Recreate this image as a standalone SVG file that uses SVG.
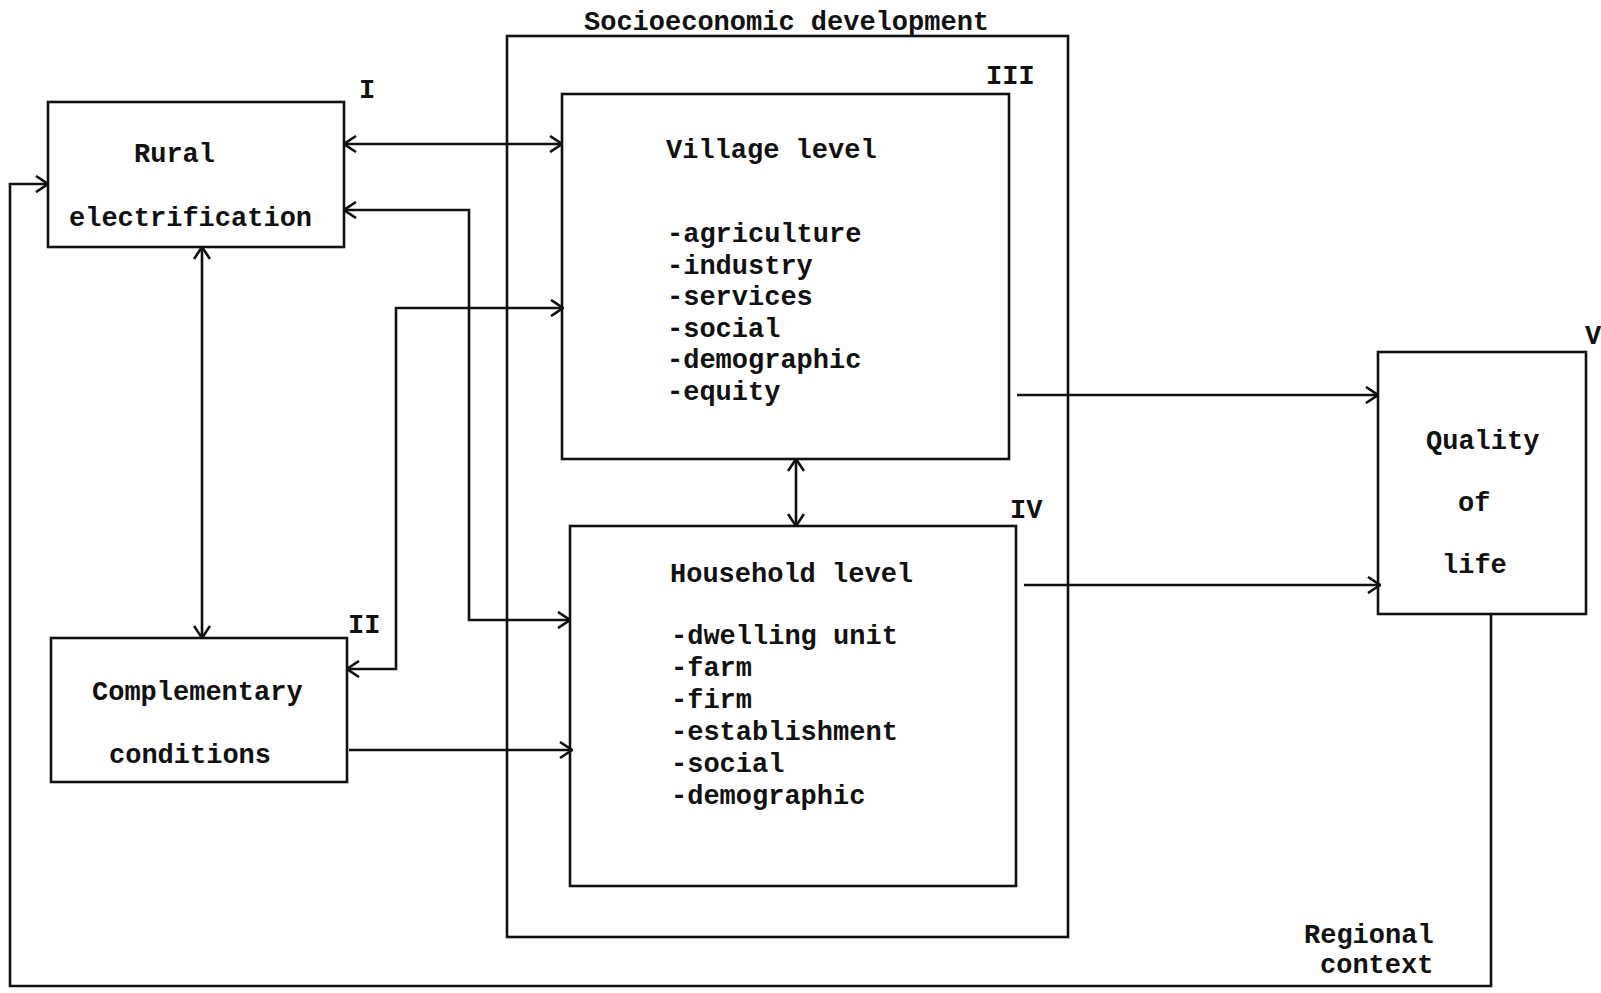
<svg xmlns="http://www.w3.org/2000/svg" width="1601" height="993" viewBox="0 0 1601 993">
<style>
.box{fill:none;stroke:#111;stroke-width:2.6}
.ln{fill:none;stroke:#111;stroke-width:2.6}
.t{font-family:"Liberation Mono","DejaVu Sans Mono",monospace;font-weight:bold;font-size:27px;fill:#111}
</style>
<defs>
<marker id="ah" viewBox="0 0 14 18" refX="13" refY="9" markerWidth="14" markerHeight="18" markerUnits="userSpaceOnUse" orient="auto-start-reverse">
<path d="M1,1 L13,9 L1,17" fill="none" stroke="#111" stroke-width="2.6"/>
</marker>
</defs>
<rect width="1601" height="993" fill="#fff"/>

<g id="socioeconomic">
<rect class="box" x="507" y="36" width="561" height="901"/>
<text class="t" x="584" y="30">Socioeconomic development</text>
</g>

<g id="rural">
<rect class="box" x="48" y="102" width="296" height="145"/>
<text class="t" x="134" y="162">Rural</text>
<text class="t" x="69" y="226">electrification</text>
<text class="t" x="359" y="98">I</text>
</g>

<g id="complementary">
<rect class="box" x="51" y="638" width="296" height="144"/>
<text class="t" x="92" y="700">Complementary</text>
<text class="t" x="109" y="763">conditions</text>
<text class="t" x="348" y="633">II</text>
</g>

<g id="village">
<rect class="box" x="562" y="94" width="447" height="365"/>
<text class="t" x="666" y="158">Village level</text>
<text class="t" x="667" y="242">-agriculture</text>
<text class="t" x="667" y="274">-industry</text>
<text class="t" x="667" y="305">-services</text>
<text class="t" x="667" y="337">-social</text>
<text class="t" x="667" y="368">-demographic</text>
<text class="t" x="667" y="400">-equity</text>
<text class="t" x="986" y="84">III</text>
</g>

<g id="household">
<rect class="box" x="570" y="526" width="446" height="360"/>
<text class="t" x="670" y="582">Household level</text>
<text class="t" x="671" y="644">-dwelling unit</text>
<text class="t" x="671" y="676">-farm</text>
<text class="t" x="671" y="708">-firm</text>
<text class="t" x="671" y="740">-establishment</text>
<text class="t" x="671" y="772">-social</text>
<text class="t" x="671" y="804">-demographic</text>
<text class="t" x="1010" y="518">IV</text>
</g>

<g id="quality">
<rect class="box" x="1378" y="352" width="208" height="262"/>
<text class="t" x="1426" y="449">Quality</text>
<text class="t" x="1458" y="511">of</text>
<text class="t" x="1442" y="573">life</text>
<text class="t" x="1585" y="344">V</text>
</g>

<g id="regional">
<text class="t" x="1304" y="943">Regional</text>
<text class="t" x="1320" y="973">context</text>
</g>

<g id="connectors">
<path class="ln" d="M344,144 H562" marker-start="url(#ah)" marker-end="url(#ah)"/>
<path class="ln" d="M344,210 H469 V620 H570" marker-start="url(#ah)" marker-end="url(#ah)"/>
<path class="ln" d="M202,247 V638" marker-start="url(#ah)" marker-end="url(#ah)"/>
<path class="ln" d="M347,669 H396 V308 H563" marker-start="url(#ah)" marker-end="url(#ah)"/>
<path class="ln" d="M349,750 H572" marker-end="url(#ah)"/>
<path class="ln" d="M796,459 V526" marker-start="url(#ah)" marker-end="url(#ah)"/>
<path class="ln" d="M1017,395 H1378" marker-end="url(#ah)"/>
<path class="ln" d="M1024,585 H1380" marker-end="url(#ah)"/>
<path class="ln" d="M1491,614 V986 H10 V184 H48" marker-end="url(#ah)"/>
</g>
</svg>
